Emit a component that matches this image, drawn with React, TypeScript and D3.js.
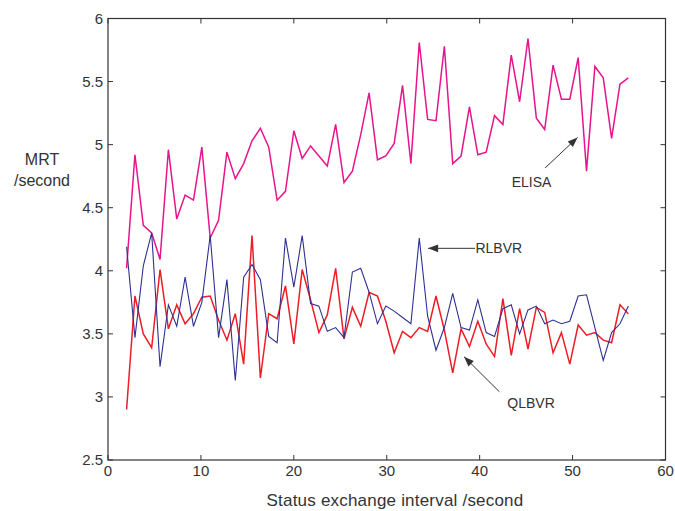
import React from "react";
import * as d3 from "d3";

// x positions: 61 samples from 2 to 56 s
const xStart = 2;
const xStep = 0.9;

const elisa = [4.02, 4.92, 4.36, 4.30, 4.09, 4.96, 4.41, 4.60, 4.56, 4.98,
  4.26, 4.40, 4.94, 4.73, 4.85, 5.03, 5.13, 4.98, 4.56, 4.63,
  5.11, 4.89, 4.99, 4.91, 4.83, 5.16, 4.70, 4.79, 5.08, 5.41,
  4.88, 4.91, 5.01, 5.47, 4.85, 5.81, 5.20, 5.19, 5.78, 4.85,
  4.91, 5.30, 4.92, 4.94, 5.23, 5.16, 5.71, 5.34, 5.84, 5.21,
  5.12, 5.63, 5.36, 5.36, 5.69, 4.79, 5.62, 5.53, 5.05, 5.48, 5.53];

const rlbvr = [4.19, 3.47, 4.04, 4.30, 3.24, 3.73, 3.56, 3.95, 3.56, 3.75,
  4.28, 3.47, 3.93, 3.13, 3.95, 4.05, 3.93, 3.48, 3.43, 4.26,
  3.87, 4.28, 3.74, 3.72, 3.52, 3.55, 3.47, 3.99, 4.02, 3.83,
  3.58, 3.72, 3.68, 3.63, 3.58, 4.26, 3.64, 3.37, 3.55, 3.82,
  3.55, 3.53, 3.77, 3.51, 3.48, 3.70, 3.73, 3.50, 3.69, 3.72,
  3.58, 3.61, 3.58, 3.60, 3.80, 3.81, 3.55, 3.29, 3.51, 3.58, 3.72];

const qlbvr = [2.90, 3.80, 3.50, 3.39, 4.01, 3.54, 3.73, 3.58, 3.66, 3.79,
  3.80, 3.61, 3.45, 3.66, 3.26, 4.28, 3.15, 3.66, 3.62, 3.88,
  3.42, 4.01, 3.77, 3.51, 3.65, 4.02, 3.46, 3.71, 3.56, 3.83,
  3.80, 3.60, 3.35, 3.52, 3.47, 3.55, 3.52, 3.80, 3.53, 3.19,
  3.54, 3.40, 3.60, 3.42, 3.32, 3.78, 3.33, 3.70, 3.38, 3.71,
  3.67, 3.35, 3.51, 3.26, 3.57, 3.49, 3.51, 3.45, 3.43, 3.73, 3.66];

const xTicks = [0, 10, 20, 30, 40, 50, 60];
const yTicks = [2.5, 3, 3.5, 4, 4.5, 5, 5.5, 6];

// annotations in data coordinates
const annotations = [
  { label: "ELISA", tx: 43.45, ty: 4.667, from: [47.04, 4.815], to: [50.54, 5.057] },
  { label: "RLBVR", tx: 39.54, ty: 4.139, from: [39.5, 4.178], to: [34.45, 4.178] },
  { label: "QLBVR", tx: 42.98, ty: 2.91, from: [42.12, 3.041], to: [38.32, 3.319] },
];

const series = [
  { name: "ELISA", values: elisa, color: "#e8148c", width: 1.5 },
  { name: "QLBVR", values: qlbvr, color: "#ee1c25", width: 1.5 },
  { name: "RLBVR", values: rlbvr, color: "#2e3192", width: 1.1 },
];

const FONT = "'Liberation Sans', Arial, Helvetica, sans-serif";
const TEXT = "#333333";

export default function App() {
  const W = 675, H = 511;
  const left = 108, right = 665.5, top = 18.5, bottom = 460;
  const x = d3.scaleLinear().domain([0, 60]).range([left, right]);
  const y = d3.scaleLinear().domain([2.5, 6]).range([bottom, top]);
  const line = d3.line<number>()
    .x((_, i) => x(xStart + i * xStep))
    .y((d) => y(d));
  const tl = 5;

  const arrowHead = (fx: number, fy: number, tx: number, ty: number) => {
    const ang = Math.atan2(ty - fy, tx - fx);
    const L = 10, Wd = 3.8;
    const bx = tx - L * Math.cos(ang), by = ty - L * Math.sin(ang);
    const px = -Math.sin(ang) * Wd, py = Math.cos(ang) * Wd;
    return `M${tx},${ty}L${bx + px},${by + py}L${bx - px},${by - py}Z`;
  };

  return (
    <svg width={W} height={H} style={{ position: "absolute", left: 0, top: 0, background: "#fff" }}
      fontFamily={FONT}>
      <rect x={0} y={0} width={W} height={H} fill="#fff" />
      {series.map((s) => (
        <path key={s.name} d={line(s.values) || ""} fill="none" stroke={s.color}
          strokeWidth={s.width} strokeLinejoin="miter" />
      ))}
      {/* box */}
      <rect x={left} y={top} width={right - left} height={bottom - top} fill="none"
        stroke="#333" strokeWidth={1.2} />
      {xTicks.map((t) => (
        <g key={"x" + t}>
          <line x1={x(t)} x2={x(t)} y1={bottom} y2={bottom - tl} stroke="#333" strokeWidth={1} />
          <line x1={x(t)} x2={x(t)} y1={top} y2={top + tl} stroke="#333" strokeWidth={1} />
          <text x={x(t)} y={bottom + 16} textAnchor="middle" fontSize={15} fill={TEXT}>{t}</text>
        </g>
      ))}
      {yTicks.map((t) => (
        <g key={"y" + t}>
          <line x1={left} x2={left + tl} y1={y(t)} y2={y(t)} stroke="#333" strokeWidth={1} />
          <line x1={right} x2={right - tl} y1={y(t)} y2={y(t)} stroke="#333" strokeWidth={1} />
          <text x={left - 5} y={y(t) + 5} textAnchor="end" fontSize={15} fill={TEXT}>{t}</text>
        </g>
      ))}
      <text x={395} y={506} textAnchor="middle" fontSize={17} letterSpacing={0.2} fill={TEXT}>
        Status exchange interval /second
      </text>
      <text x={42} y={165} textAnchor="middle" fontSize={16} fill={TEXT}>MRT</text>
      <text x={42} y={186} textAnchor="middle" fontSize={16} fill={TEXT}>/second</text>
      {annotations.map((a) => {
        const fx = x(a.from[0]), fy = y(a.from[1]);
        const tx = x(a.to[0]), ty = y(a.to[1]);
        return (
          <g key={a.label}>
            <line x1={fx} y1={fy} x2={tx} y2={ty} stroke="#333" strokeWidth={1} />
            <path d={arrowHead(fx, fy, tx, ty)} fill="#333" />
            <text x={x(a.tx)} y={y(a.ty)} fontSize={14} fill={TEXT}>{a.label}</text>
          </g>
        );
      })}
    </svg>
  );
}
